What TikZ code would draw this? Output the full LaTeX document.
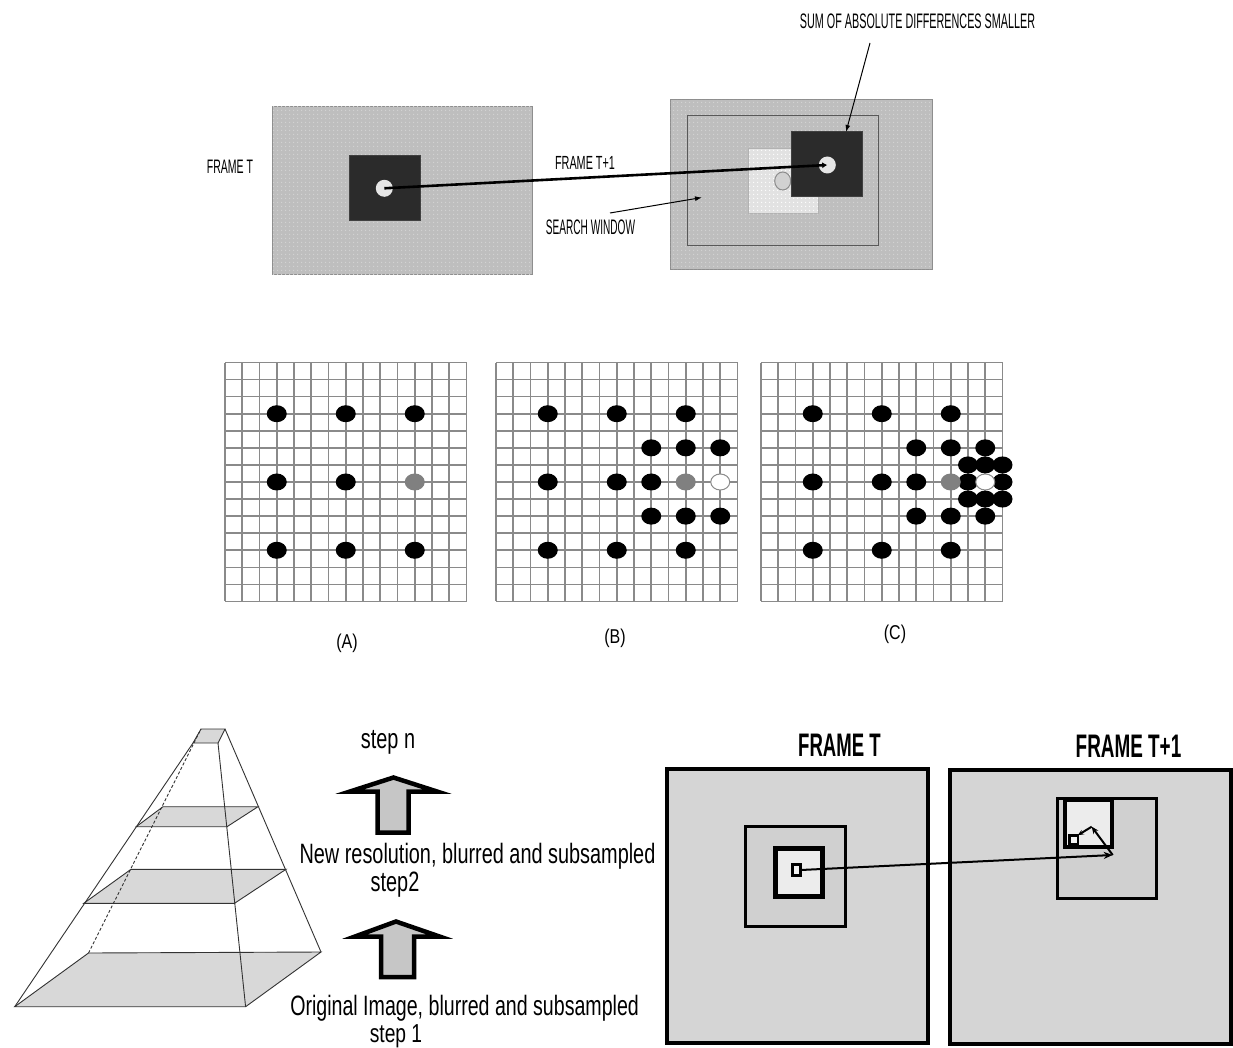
\documentclass[tikz,border=0pt]{standalone}
\usepackage{fontspec}
\setmainfont{Liberation Sans}
\usepackage{graphicx}
\usetikzlibrary{arrows.meta,calc,shapes.geometric,patterns.meta}
% horizontally condensed text
\newcommand\nar[2]{\scalebox{#1}[1]{#2}}
\newcommand\fs[1]{\fontsize{#1}{#1}\selectfont}
\definecolor{topgray}{HTML}{BEBEBE}
\definecolor{topdots}{HTML}{D2D2D2}
\definecolor{topedge}{HTML}{8E8E8E}
\definecolor{blockdark}{HTML}{2B2B2B}
\definecolor{candfill}{HTML}{E2E2E2}
\definecolor{holefill}{HTML}{E6E6E6}
\definecolor{gridgray}{HTML}{8A8A8A}
\definecolor{slicegray}{HTML}{D8D8D8}
\definecolor{pyredge}{HTML}{333333}
\definecolor{arrowfill}{HTML}{C6C6C6}
\definecolor{bframefill}{HTML}{D5D5D5}
\definecolor{bwinfill}{HTML}{D0D0D0}
\definecolor{bblockfill}{HTML}{ECECEC}
% fine speckle texture of the video frames
\tikzdeclarepattern{
  name=speckle,
  type=uncolored,
  bounding box={(0pt,0pt) and (4pt,4pt)},
  tile size={(4pt,4pt)},
  code={\pgfpathcircle{\pgfpoint{2pt}{2pt}}{0.9pt}\pgfusepath{fill}}
}
\tikzset{
  lbl/.style={inner sep=0pt, anchor=base},
  box/.style={inner sep=0pt, outer sep=0pt},
  tframe/.style={box, draw=topedge, line width=1pt, fill=topgray,
    postaction={pattern=speckle, pattern color=topdots}},
  darksq/.style={box, draw=black!75, line width=0.6pt, fill=blockdark},
  candsq/.style={box, draw=black!30, line width=1pt, fill=candfill,
    postaction={pattern=speckle, pattern color=white}},
  swin/.style={box, draw=black!65, line width=1.2pt},
  hole/.style={circle, box, fill=holefill, minimum size=17pt},
  oldpos/.style={ellipse, box, draw=black!45, line width=1pt, fill=black!18},
  motion/.style={line width=2.6pt, -{Latex[length=5pt,width=6pt]}},
  ptr/.style={line width=1pt, -{Latex[length=7pt,width=5pt]}},
  gridl/.style={draw=gridgray, line width=1.6pt},
  pyr/.style={draw=pyredge, line width=0.9pt},
  slice/.style={fill=slicegray, draw=pyredge, line width=0.9pt},
  blockarrow/.style={fill=arrowfill, draw=black, line width=4.5pt, line join=miter},
  bframe/.style={box, draw=black, line width=4pt, fill=bframefill},
  bwin/.style={box, draw=black, line width=3pt, fill=bwinfill},
  bblock/.style={box, draw=black, line width=5pt, fill=bblockfill},
  tinysq/.style={box, draw=black, line width=3pt, fill=white!95!black},
  bmove/.style={line width=2pt, -{Stealth[length=9pt,width=7pt]}},
}
\begin{document}
\begin{tikzpicture}[x=1pt,y=-1pt]
\useasboundingbox (0,0) rectangle (1233,1048);
\fill[white] (0,0) rectangle (1233,1048);

% ---------------- block matching between two frames ----------------
\node[tframe, minimum width=260pt, minimum height=168pt] (frT) at (402,191) {};
\node[darksq, minimum width=70.7pt, minimum height=65pt] (blkT) at (384.7,187.5) {};
\node[hole] (cT) at (384.3,188.3) {};

\node[tframe, minimum width=262pt, minimum height=170pt] (frT1) at (801,184.8) {};
\node[swin, minimum width=191pt, minimum height=130pt] (srch) at (782.8,180.7) {};
\node[candsq, minimum width=70pt, minimum height=65pt] (cand) at (783.3,180.8) {};
\node[oldpos, minimum width=16pt, minimum height=18pt] (cOld) at (782.7,181) {};
\node[darksq, minimum width=71pt, minimum height=65pt] (blkT1) at (827.2,164.2) {};
\node[hole] (cT1) at (827.3,165) {};

\draw[motion] (cT.center) -- (cT1.center);

\node[lbl] (lFT) at (230,173.5) {\fs{19.5}\nar{0.54}{FRAME T}};
\node[lbl] (lFT1) at (585,170) {\fs{19}\nar{0.57}{FRAME T+1}};
\node[lbl] (lSW) at (590.5,235) {\fs{21}\nar{0.48}{SEARCH WINDOW}};
\node[lbl] (lSAD) at (917.5,28.3) {\fs{21}\nar{0.514}{SUM OF ABSOLUTE DIFFERENCES SMALLER}};

\coordinate (swFrom) at (610,213);
\coordinate (swTo) at (702,197.5);
\draw[ptr] (swFrom) -- (swTo);
\coordinate (sadFrom) at (870,43);
\coordinate (sadTo) at (846,132);
\draw[ptr] (sadFrom) -- (sadTo);

% ---------------- search grids (A), (B), (C) ----------------
\foreach \gx/\gid in {225/A,496/B,761/C}{
  \begin{scope}[shift={(\gx,362.5)}, x=17.25pt, y=-17.07pt]
    \fill[white] (0,0) rectangle (14,14);
    \foreach \i in {0,...,14}{
      \draw[gridl] (\i,0) -- (\i,14);
      \draw[gridl] (0,\i) -- (14,\i);
    }
    \foreach \px/\py in {3/3,7/3,11/3,3/7,7/7,3/11,7/11,11/11}
      \fill[black] (\px,\py) ellipse [x radius=10pt, y radius=8.5pt];
  \end{scope}
}
% grid A: best point so far
\begin{scope}[shift={(225,362.5)}, x=17.25pt, y=-17.07pt]
  \fill[black!50] (11,7) ellipse [x radius=10pt, y radius=8.5pt];
\end{scope}
% grid B: second step around the best point
\begin{scope}[shift={(496,362.5)}, x=17.25pt, y=-17.07pt]
  \foreach \px/\py in {9/5,11/5,13/5,9/7,9/9,11/9,13/9}
    \fill[black] (\px,\py) ellipse [x radius=10pt, y radius=8.5pt];
  \fill[black!50] (11,7) ellipse [x radius=10pt, y radius=8.5pt];
  \filldraw[fill=white, draw=black!45, line width=1pt] (13,7) ellipse [x radius=9.5pt, y radius=8pt];
\end{scope}
% grid C: third step
\begin{scope}[shift={(761,362.5)}, x=17.25pt, y=-17.07pt]
  \foreach \px/\py in {9/5,11/5,13/5,9/7,9/9,11/9,13/9,12/6,13/6,14/6,12/7,14/7,12/8,13/8,14/8}
    \fill[black] (\px,\py) ellipse [x radius=10pt, y radius=8.5pt];
  \fill[black!50] (11,7) ellipse [x radius=10pt, y radius=8.5pt];
  \filldraw[fill=white, draw=black!45, line width=1pt] (13,7) ellipse [x radius=9.5pt, y radius=8pt];
\end{scope}

\node[lbl] (lA) at (347,648) {\fs{20}\nar{0.8}{(A)}};
\node[lbl] (lB) at (615,643) {\fs{20}\nar{0.8}{(B)}};
\node[lbl] (lC) at (895,639) {\fs{20}\nar{0.8}{(C)}};

% ---------------- resolution pyramid ----------------
\coordinate (bFL) at (14.7,1006.7);
\coordinate (bFR) at (245.6,1006.7);
\coordinate (bBR) at (321,952);
\coordinate (bBL) at (88.5,953);
\coordinate (tFL) at (193,743);
\coordinate (tFR) at (218,743);
\coordinate (tBR) at (225,729);
\coordinate (tBL) at (201,729);
\coordinate (mFL) at (83.8,903.3);
\coordinate (mFR) at (234.5,903.3);
\coordinate (mBR) at (286,869.3);
\coordinate (mBL) at (131,869.3);
\coordinate (uFL) at (136.2,826.7);
\coordinate (uFR) at (227,826.7);
\coordinate (uBR) at (258,806.7);
\coordinate (uBL) at (163,806.7);

\filldraw[slice] (bFL) -- (bFR) -- (bBR) -- (bBL) -- cycle;
\filldraw[slice] (mFL) -- (mFR) -- (mBR) -- (mBL) -- cycle;
\filldraw[slice] (uFL) -- (uFR) -- (uBR) -- (uBL) -- cycle;
\filldraw[slice] (tFL) -- (tFR) -- (tBR) -- (tBL) -- cycle;
\draw[pyr, line width=1.6pt] (mFL) -- (mFR);
\draw[pyr] (bFL) -- (tFL);
\draw[pyr] (bFR) -- (tFR);
\draw[pyr] (bBR) -- (tBR);
\draw[pyr, densely dashed] (bBL) -- (tBL);

% upward block arrows
\draw[blockarrow] (393.5,777.5) -- (437,791.5) -- (408.5,791.5) -- (408.5,832.5)
  -- (377.5,832.5) -- (377.5,791.5) -- (350,791.5) -- cycle;
\draw[blockarrow] (396,921.5) -- (439.5,936.5) -- (414,936.5) -- (414,977)
  -- (381,977) -- (381,936.5) -- (355,936.5) -- cycle;

\node[lbl] (stepn) at (388,748) {\fs{28}\nar{0.71}{step n}};
\node[lbl] (newres) at (477.5,863) {\fs{28}\nar{0.71}{New resolution, blurred and subsampled}};
\node[lbl] (step2) at (395,891.5) {\fs{28}\nar{0.71}{step2}};
\node[lbl] (orig) at (464.6,1015) {\fs{28}\nar{0.70}{Original Image, blurred and subsampled}};
\node[lbl] (step1) at (396,1042) {\fs{26}\nar{0.74}{step 1}};

% ---------------- hierarchical search in two frames ----------------
\node[bframe, minimum width=261pt, minimum height=274pt] (bfT) at (797.5,906) {};
\node[bframe, minimum width=281pt, minimum height=274pt] (bfT1) at (1090.5,907) {};

\node[bwin, minimum width=100pt, minimum height=100pt] (bwT) at (795.5,876.5) {};
\node[bblock, minimum width=47.5pt, minimum height=48.3pt] (bbT) at (799.2,872.6) {};
\node[tinysq, minimum width=8.3pt, minimum height=10.4pt] (tinyL) at (796.7,870) {};

\node[bwin, minimum width=99pt, minimum height=99.5pt] (bwT1) at (1107,848.7) {};
\node[bblock, line width=4pt, minimum width=46.8pt, minimum height=47.3pt] (bbT1) at (1088.1,823.7) {};
\node[tinysq, line width=2.5pt, minimum width=8.5pt, minimum height=8.5pt] (tinyR) at (1073.5,839.5) {};

\coordinate (hit) at (1112.7,855);
\coordinate (peak) at (1091.7,826.7);
\draw[bmove] (tinyL.east) -- (hit);
\draw[line width=2pt, -{Stealth[length=7pt,width=6pt]}] (hit) -- (peak);
\draw[line width=2pt, -{Stealth[length=6pt,width=5pt]}] (peak) -- (tinyR.north east);

\node[lbl] (hFT) at (839.5,756.7) {\fs{32.6}\bfseries\nar{0.57}{FRAME T}};
\node[lbl] (hFT1) at (1128.5,757) {\fs{32.6}\bfseries\nar{0.58}{FRAME T+1}};
\end{tikzpicture}
\end{document}
